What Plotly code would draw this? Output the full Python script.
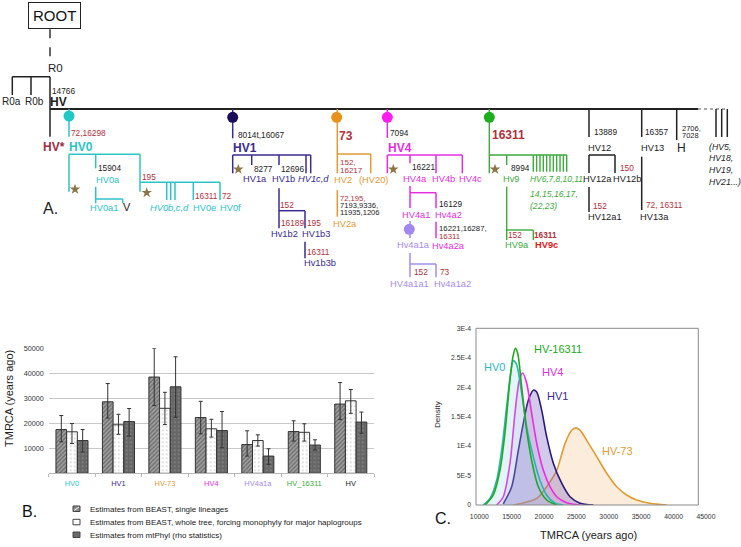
import plotly.graph_objects as go

W, H = 741, 547
FONT = "Liberation Sans, Arial, sans-serif"

# ---------------- Panel B data ----------------
groups = ["HV0", "HV1", "HV-73", "HV4", "HV4a1a", "HV_16311", "HV"]
series_names = ["Estimates from BEAST, single lineages",
                "Estimates from BEAST, whole tree, forcing monophyly for major haplogroups",
                "Estimates from mtPhyl (rho statistics)"]
beast_single = [17500, 28600, 38500, 22300, 11500, 16700, 27700]
beast_single_hi = [23100, 35900, 50000, 28800, 17000, 21000, 36300]
beast_single_lo = [12600, 22100, 27100, 15800, 6900, 12900, 21500]
beast_tree = [16600, 19400, 26000, 17800, 13100, 16400, 29000]
beast_tree_hi = [19900, 23600, 32400, 21600, 15400, 19800, 33500]
beast_tree_lo = [11900, 15600, 19500, 14500, 10900, 12900, 24000]
mtphyl = [13100, 20700, 34600, 17100, 6900, 11300, 20500]
mtphyl_hi = [17500, 25900, 46600, 24700, 9800, 13400, 24500]
mtphyl_lo = [8500, 14900, 22400, 10200, 3600, 9300, 16000]
b_ytick_vals = [10000, 20000, 30000, 40000, 50000]

# ---------------- Panel C data ----------------
hv73_x = [15250, 18850, 20400, 21950, 23250, 24260, 24900, 25550, 26840, 28130, 29670, 31220, 32760, 34300, 36370, 38940]
hv73_y = [0.0, 0.11e-4, 0.31e-4, 0.59e-4, 1.05e-4, 1.27e-4, 1.31e-4, 1.27e-4, 1.05e-4, 0.82e-4, 0.54e-4, 0.31e-4, 0.17e-4, 0.085e-4, 0.03e-4, 0.0]
hv1_x = [13700, 15000, 16030, 16800, 17570, 18340, 18860, 19630, 20400, 21430, 22720, 24010, 25550, 27610]
hv1_y = [0.02e-4, 0.31e-4, 0.93e-4, 1.39e-4, 1.78e-4, 1.95e-4, 1.92e-4, 1.61e-4, 1.16e-4, 0.71e-4, 0.37e-4, 0.14e-4, 0.03e-4, 0.0]
hv4_x = [12680, 13700, 14740, 15510, 16180, 16700, 17310, 18080, 18860, 19890, 20920, 21950, 23490, 25550]
hv4_y = [0.0, 0.14e-4, 0.71e-4, 1.56e-4, 2.12e-4, 2.24e-4, 2.07e-4, 1.56e-4, 1.05e-4, 0.59e-4, 0.31e-4, 0.14e-4, 0.04e-4, 0.0]
hv0_x = [10600, 11650, 12680, 13450, 14220, 14840, 15250, 15770, 16540, 17310, 18340, 19370, 20400, 21690, 22980]
hv0_y = [0.0, 0.11e-4, 0.42e-4, 0.93e-4, 1.67e-4, 2.24e-4, 2.45e-4, 2.38e-4, 1.90e-4, 1.33e-4, 0.82e-4, 0.42e-4, 0.17e-4, 0.03e-4, 0.0]
hv16311_x = [10900, 12160, 13190, 13960, 14630, 15150, 15560, 15920, 16540, 17310, 18080, 19110, 20400, 21950]
hv16311_y = [0.0, 0.17e-4, 0.59e-4, 1.22e-4, 2.01e-4, 2.49e-4, 2.66e-4, 2.58e-4, 2.01e-4, 1.27e-4, 0.76e-4, 0.31e-4, 0.085e-4, 0.0]
c_xtick_vals = [10000, 15000, 20000, 25000, 30000, 35000, 40000, 45000]
c_ytick_vals = [0, 5e-5, 1e-4, 1.5e-4, 2e-4, 2.5e-4, 3e-4]
c_ytick_text = ["0", "5E-5", "1E-4", "1.5E-4", "2E-4", "2.5E-4", "3E-4"]

# ---------------- colours ----------------
COL = dict(k="#222222", teal="#2cc3c8", ind="#3b2a8f", org="#e29a32", mag="#e42ee0",
           lav="#a48ce8", grn="#3daa3d", red="#b0303a", hvstar="#a02c44", bred="#e02020",
           star="#8c7444")
group_colors = [COL["teal"], COL["ind"], COL["org"], COL["mag"], COL["lav"], COL["grn"], "#222222"]

fig = go.Figure()

# ---------------- Panel B bars ----------------
bar_specs = [
    (beast_single, beast_single_hi, beast_single_lo,
     dict(shape="/", bgcolor="#a0a0a0", fgcolor="#3a3a3a", size=3, solidity=0.45)),
    (beast_tree, beast_tree_hi, beast_tree_lo,
     dict(shape=".", bgcolor="#ffffff", fgcolor="#8a8a8a", size=4, solidity=0.15)),
    (mtphyl, mtphyl_hi, mtphyl_lo,
     dict(shape=".", bgcolor="#666666", fgcolor="#a0a0a0", size=4, solidity=0.2)),
]
for name, (vals, hi, lo, pat) in zip(series_names, bar_specs):
    fig.add_trace(go.Bar(
        x=groups, y=vals, name=name, showlegend=False,
        marker=dict(line=dict(color="#333333", width=1), pattern=pat),
        error_y=dict(type="data", symmetric=False,
                     array=[h - v for h, v in zip(hi, vals)],
                     arrayminus=[v - l for v, l in zip(vals, lo)],
                     color="#333333", thickness=1, width=2),
        xaxis="x", yaxis="y", hoverinfo="skip"))

# ---------------- Panel C densities ----------------
dens = [
    ("HV-73", hv73_x, hv73_y, COL["org"], "rgba(240,170,90,0.22)"),
    ("HV1", hv1_x, hv1_y, "#2a1a78", "rgba(110,80,190,0.30)"),
    ("HV4", hv4_x, hv4_y, COL["mag"], "rgba(210,120,230,0.14)"),
    ("HV0", hv0_x, hv0_y, "#26b8b0", "rgba(120,200,225,0.20)"),
    ("HV-16311", hv16311_x, hv16311_y, "#22a822", None),
]
for name, xs, ys, lc, fc in dens:
    fig.add_trace(go.Scatter(
        x=xs, y=ys, mode="lines", name=name, showlegend=False,
        line=dict(color=lc, width=1.6, shape="spline", smoothing=0.8),
        fill="tozeroy" if fc else None, fillcolor=fc,
        xaxis="x2", yaxis="y2", hoverinfo="skip"))

# ---------------- Panel A tree (diagram in pixel space) ----------------
def add_segments(segs, color, width=1.6, dash=None):
    xs, ys = [], []
    for x0, y0, x1, y1 in segs:
        xs += [x0, x1, None]
        ys += [y0, y1, None]
    fig.add_trace(go.Scatter(x=xs, y=ys, mode="lines", showlegend=False,
                             line=dict(color=color, width=width, dash=dash),
                             xaxis="x3", yaxis="y3", hoverinfo="skip"))

add_segments([(50, 29.3, 50, 58)], "#333333", 1.5, "dash")
add_segments([(50, 109, 698, 109)], "#222222", 2.0)
add_segments([(698, 109, 728, 109)], "#555555", 1.2, "dot")
add_segments([
    (12.3, 76.7, 50, 76.7), (12.3, 76.7, 12.3, 95), (31, 76.7, 31, 95), (50, 76.7, 50, 136.7),
    (589, 109, 589, 137), (589, 155, 615, 155), (589, 155, 589, 173), (615, 155, 615, 173),
    (589, 187, 589, 212),
    (641.7, 109, 641.7, 137), (641.7, 156.7, 641.7, 210),
    (676.7, 109, 676.7, 140),
    (716, 109, 716, 137), (721.7, 109, 721.7, 137), (727.3, 109, 727.3, 137),
], "#222222", 1.5)
add_segments([
    (69, 109, 69, 136.7), (69, 154.3, 140, 154.3), (69, 154.3, 69, 191.7), (95.7, 154.3, 95.7, 168.3),
    (95.7, 186.7, 95.7, 203.3), (95.7, 199, 122.7, 199), (122.7, 199, 122.7, 203.3),
    (140, 154.3, 140, 191.7), (140, 182.3, 220, 182.3),
    (166.7, 182.3, 166.7, 200), (170.7, 182.3, 170.7, 200), (175, 182.3, 175, 200),
    (193.3, 182.3, 193.3, 200), (220, 182.3, 220, 200),
], COL["teal"], 1.5)
add_segments([
    (232.7, 109, 232.7, 138.3), (232.7, 155, 310.7, 155), (232.7, 155, 232.7, 173.3),
    (251.7, 155, 251.7, 165), (279, 155, 279, 165), (306, 155, 306, 173.3), (310.7, 155, 310.7, 173.3),
    (279, 188.3, 279, 228.3), (279, 210.7, 305, 210.7), (305, 210.7, 305, 228.3), (305, 241.7, 305, 258.3),
], COL["ind"], 1.5)
add_segments([
    (337.3, 109, 337.3, 173.3), (337.3, 154, 370.7, 154), (370.7, 154, 370.7, 173.3),
    (337.3, 190, 337.3, 216.7),
], COL["org"], 1.5)
add_segments([
    (387.3, 109, 387.3, 138), (387.3, 155, 462.3, 155), (387.3, 155, 387.3, 173.3),
    (410, 155, 410, 163.3), (436, 155, 436, 173.3), (462.3, 155, 462.3, 173.3),
    (410, 186, 410, 208), (410, 192.7, 436, 192.7), (436, 192.7, 436, 208.3), (436, 221.7, 436, 238.3),
], COL["mag"], 1.5)
add_segments([
    (410, 221, 410, 238), (410, 253, 410, 277.3), (410, 264, 436, 264), (436, 264, 436, 277.3),
], COL["lav"], 1.5)
green_segs = [
    (489.3, 109, 489.3, 173.3), (489.3, 155, 566.7, 155), (506.7, 155, 506.7, 165),
    (506.7, 186.7, 506.7, 240), (506.7, 230, 533.3, 230), (533.3, 230, 533.3, 240),
]
for i in range(11):
    gx = 533.3 + i * 3.34
    green_segs.append((gx, 155, gx, 171.7))
add_segments(green_segs, COL["grn"], 1.4)

# nodes
nodes = [(69, 116, "#20c8c8"), (232.7, 117.3, "#1c0c5c"), (336.7, 117.3, "#e8921c"),
         (387.3, 117.3, "#ff1ef0"), (489.3, 117.3, "#1cae1c"), (409.3, 229.3, "#a088f0")]
fig.add_trace(go.Scatter(x=[n[0] for n in nodes], y=[n[1] for n in nodes], mode="markers",
                         marker=dict(size=11, color=[n[2] for n in nodes], line=dict(width=0)),
                         xaxis="x3", yaxis="y3", showlegend=False, hoverinfo="skip"))
stars = [(75, 189.3), (146.7, 192.7), (238.3, 169.3), (393.3, 169.3), (495, 169.3)]
fig.add_trace(go.Scatter(x=[s[0] for s in stars], y=[s[1] for s in stars], mode="markers",
                         marker=dict(symbol="star", size=8, color=COL["star"], line=dict(width=0)),
                         xaxis="x3", yaxis="y3", showlegend=False, hoverinfo="skip"))

tree_labels = [
    ("R0", 55, 68, 11.5, "k", "", "center"),
    ("R0a", 11, 101.7, 10, "k", "", "center"),
    ("R0b", 34, 101.7, 10, "k", "", "center"),
    ("14766", 63.3, 91, 8.3, "k", "", "center"),
    ("HV", 58.7, 101.7, 12, "k", "b", "center"),
    ("HV*", 54, 147.3, 12, "hvstar", "b", "center"),
    ("72,16298", 70, 133.3, 8.3, "red", "", "left"),
    ("HV0", 67.5, 147.3, 12, "teal", "b", "left"),
    ("15904", 96.5, 168.3, 8.3, "k", "", "left"),
    ("HV0a", 108, 180, 9.3, "teal", "", "center"),
    ("HV0a1", 104, 208.3, 9.3, "teal", "", "center"),
    ("V", 127, 207.3, 11, "k", "", "center"),
    ("195", 149.3, 176.7, 8.3, "red", "", "center"),
    ("HV0b,c,d", 169, 208.3, 9.3, "teal", "i", "center"),
    ("16311", 206, 196, 8.3, "red", "", "center"),
    ("72", 226.7, 196, 8.3, "red", "", "center"),
    ("HV0e", 204.7, 208.3, 9.3, "teal", "", "center"),
    ("HV0f", 230, 208.3, 9.3, "teal", "", "center"),
    ("A.", 50, 208.3, 16, "k", "", "center"),
    ("8014t,16067", 236.5, 135, 8.3, "k", "", "left"),
    ("HV1", 232, 148.3, 12, "ind", "b", "left"),
    ("8277", 252.5, 169.3, 8.3, "k", "", "left"),
    ("12696", 280.2, 169.3, 8.3, "k", "", "left"),
    ("HV1a", 255.3, 179.3, 9.3, "ind", "", "center"),
    ("HV1b", 283.3, 179.3, 9.3, "ind", "", "center"),
    ("HV1c,d", 313.3, 179.3, 9.3, "ind", "i", "center"),
    ("152", 287, 205, 8.3, "red", "", "center"),
    ("16189", 292.3, 223.3, 8.3, "red", "", "center"),
    ("195", 314.2, 223.3, 8.3, "red", "", "center"),
    ("Hv1b2", 284.7, 234, 9.3, "ind", "", "center"),
    ("HV1b3", 315.5, 234, 9.3, "ind", "", "center"),
    ("16311", 318, 252.3, 8.3, "red", "", "center"),
    ("Hv1b3b", 320, 263.3, 9.3, "ind", "", "center"),
    ("73", 346.3, 136, 12, "red", "b", "center"),
    ("152,", 338.5, 162.7, 8, "red", "", "left"),
    ("16217", 338.5, 170, 8, "red", "", "left"),
    ("HV2", 343, 180, 9.3, "org", "", "center"),
    ("(HV20)", 373.5, 180, 9.3, "org", "", "center"),
    ("72,195,", 338.5, 198.1, 7.6, "red", "", "left"),
    ("7193,9336,", 338.5, 205.5, 7.6, "k", "", "left"),
    ("11935,1206", 338.5, 212.8, 7.6, "k", "", "left"),
    ("HV2a", 345, 224.3, 9.3, "org", "", "center"),
    ("7094", 389.2, 133.3, 8.3, "k", "", "left"),
    ("HV4", 386.5, 148.3, 12, "mag", "b", "left"),
    ("16221", 411, 167.3, 8.3, "k", "", "left"),
    ("HV4a", 414.7, 179.3, 9.3, "mag", "", "center"),
    ("HV4b", 443.3, 179.3, 9.3, "mag", "", "center"),
    ("HV4c", 470, 179.3, 9.3, "mag", "", "center"),
    ("16129", 437.5, 204, 8.3, "k", "", "left"),
    ("HV4a1", 416.3, 215, 9.3, "mag", "", "center"),
    ("Hv4a2", 448, 215, 9.3, "mag", "", "center"),
    ("16221,16287,", 437.5, 228.6, 7.8, "k", "", "left"),
    ("16311", 437.5, 236.3, 7.8, "red", "", "left"),
    ("Hv4a1a", 413.7, 245, 9.3, "lav", "", "center"),
    ("Hv4a2a", 448.3, 245.5, 9.3, "mag", "", "center"),
    ("152", 421.2, 272.3, 8.3, "red", "", "center"),
    ("73", 445, 272.3, 8.3, "red", "", "center"),
    ("HV4a1a1", 409.2, 284, 9.3, "lav", "", "center"),
    ("Hv4a1a2", 452.7, 284, 9.3, "lav", "", "center"),
    ("16311", 491, 135, 12, "red", "b", "left"),
    ("8994", 510.2, 168.3, 8.3, "k", "", "left"),
    ("Hv9", 511, 179.3, 9.3, "grn", "", "center"),
    ("HV6,7,8,10,11,", 528.5, 179.3, 8.4, "grn", "i", "left"),
    ("14,15,16,17,", 528.5, 194.3, 8.6, "grn", "i", "left"),
    ("(22,23)", 528.5, 206, 8.6, "grn", "i", "left"),
    ("152", 515, 235, 8.3, "red", "", "center"),
    ("16311", 545.8, 235, 8.3, "red", "b", "center"),
    ("HV9a", 516.8, 245, 9.3, "grn", "", "center"),
    ("HV9c", 546.3, 245, 9.3, "bred", "b", "center"),
    ("13889", 592.5, 132, 8.3, "k", "", "left"),
    ("HV12", 599.2, 148, 9.3, "k", "", "center"),
    ("HV12a", 597.8, 179, 9.3, "k", "", "center"),
    ("150", 626.7, 167.7, 8.3, "red", "", "center"),
    ("HV12b", 626.7, 179, 9.3, "k", "", "center"),
    ("152", 600.3, 206, 8.3, "red", "", "center"),
    ("HV12a1", 604.5, 217, 9.3, "k", "", "center"),
    ("16357", 644.2, 132, 8.3, "k", "", "left"),
    ("HV13", 652.3, 148, 9.3, "k", "", "center"),
    ("72, 16311", 664.2, 205, 8.3, "red", "", "center"),
    ("HV13a", 654.8, 216.7, 9.3, "k", "", "center"),
    ("2706,", 680.5, 128, 7.5, "k", "", "left"),
    ("7028", 680.5, 135.5, 7.5, "k", "", "left"),
    ("H", 681.7, 148, 12, "k", "", "center"),
    ("(HV5,", 707.5, 146.7, 8.7, "k", "i", "left"),
    ("HV18,", 707.5, 158.3, 8.7, "k", "i", "left"),
    ("HV19,", 707.5, 170, 8.7, "k", "i", "left"),
    ("HV21...)", 707.5, 181.7, 8.7, "k", "i", "left"),
]

annotations = []
for text, x, y, size, ck, style, anchor in tree_labels:
    t = text
    if "b" in style:
        t = "<b>%s</b>" % t
    if "i" in style:
        t = "<i>%s</i>" % t
    annotations.append(dict(text=t, x=x, y=y, xref="x3", yref="y3", showarrow=False,
                            xanchor=anchor, yanchor="middle", borderpad=0,
                            font=dict(size=size, color=COL[ck], family=FONT)))

# ROOT box
annotations.append(dict(text="ROOT", x=54, y=15.5, xref="x3", yref="y3", showarrow=False,
                        xanchor="center", yanchor="middle", bordercolor="#222222", borderwidth=1,
                        borderpad=4, bgcolor="white", font=dict(size=15, color="#111111", family=FONT)))

# Panel B titles, legend
annotations.append(dict(text="TMRCA (years ago)", x=9, y=399, xref="x3", yref="y3", showarrow=False,
                        textangle=-90, font=dict(size=11, color="#222222", family=FONT)))
annotations.append(dict(text="B.", x=29, y=511.7, xref="x3", yref="y3", showarrow=False,
                        font=dict(size=16, color="#111111", family=FONT)))
legend_rows = [509, 522.3, 535]
for name, ry in zip(series_names, legend_rows):
    annotations.append(dict(text=name, x=88.5, y=ry, xref="x3", yref="y3", showarrow=False,
                            xanchor="left", yanchor="middle", borderpad=0,
                            font=dict(size=8, color="#222222", family=FONT)))

shapes = []
swatch_fills = ["#8a8a8a", "#ffffff", "#6a6a6a"]
for fc, ry in zip(swatch_fills, legend_rows):
    shapes.append(dict(type="rect", xref="x3", yref="y3", x0=73, x1=80, y0=ry - 3, y1=ry + 2.5,
                       fillcolor=fc, line=dict(color="#444444", width=1)))
shapes.append(dict(type="line", xref="x3", yref="y3", x0=74, x1=79, y0=510.5, y1=507,
                   line=dict(color="#eeeeee", width=1)))

# Panel C frame, labels
shapes.append(dict(type="rect", xref="x3", yref="y3", x0=476, x1=698.3, y0=328.3, y1=505,
                   line=dict(color="#8a8a8a", width=1), fillcolor="rgba(0,0,0,0)", layer="above"))
annotations.append(dict(text="Density", x=437, y=415, xref="x3", yref="y3", showarrow=False,
                        textangle=-90, font=dict(size=8, color="#222222", family=FONT)))
annotations.append(dict(text="TMRCA (years ago)", x=588, y=535, xref="x3", yref="y3", showarrow=False,
                        font=dict(size=11, color="#222222", family=FONT)))
annotations.append(dict(text="C.", x=442.5, y=518, xref="x3", yref="y3", showarrow=False,
                        font=dict(size=16, color="#111111", family=FONT)))
curve_labels = [("HV-16311", 22150, 2.644e-4, "#22a822"), ("HV0", 12420, 2.348e-4, "#2cb8c0"),
                ("HV4", 21377, 2.263e-4, COL["mag"]), ("HV1", 22100, 1.856e-4, "#3a2a90"),
                ("HV-73", 31410, 0.922e-4, COL["org"])]
for t, x, y, c in curve_labels:
    annotations.append(dict(text=t, x=x, y=y, xref="x2", yref="y2", showarrow=False,
                            font=dict(size=11, color=c, family=FONT)))

def px_x(v):
    return v / W

def px_y(v):
    return 1 - v / H

fig.update_layout(
    width=W, height=H, margin=dict(l=0, r=0, t=0, b=0, pad=0, autoexpand=False),
    paper_bgcolor="white", plot_bgcolor="rgba(0,0,0,0)",
    font=dict(family=FONT, color="#222222"),
    barmode="group", bargap=0.31, bargroupgap=0,
    showlegend=False,
    xaxis=dict(domain=[px_x(48.75), px_x(374)], anchor="y", type="category", automargin=False,
               tickmode="array", tickvals=groups,
               ticktext=["<span style='color:%s'>%s</span>" % (c, g) for g, c in zip(groups, group_colors)],
               tickfont=dict(size=7.5, family=FONT), showline=True, linecolor="#b8b8b8",
               ticks="outside", tickson="boundaries", ticklen=3, tickcolor="#b8b8b8",
               showgrid=False, ticklabelstandoff=3, fixedrange=True),
    yaxis=dict(domain=[px_y(473.3), px_y(348.3)], anchor="x", range=[0, 50000], automargin=False,
               tickmode="array", tickvals=b_ytick_vals, ticktext=[str(v) for v in b_ytick_vals],
               tickfont=dict(size=7.2, color="#333333", family=FONT),
               showgrid=True, gridcolor="#c8c8c8", gridwidth=1, zeroline=False,
               showline=False, ticks="", ticklabelstandoff=4, fixedrange=True),
    xaxis2=dict(domain=[px_x(476.06), px_x(709.2)], anchor="y2", range=[9500, 45500], automargin=False,
                tickmode="array", tickvals=c_xtick_vals, ticktext=[str(v) for v in c_xtick_vals],
                tickfont=dict(size=6.8, color="#333333", family=FONT),
                showgrid=False, zeroline=False, showline=False, ticks="",
                ticklabelstandoff=6, fixedrange=True),
    yaxis2=dict(domain=[px_y(505), px_y(328.3)], anchor="x2", range=[0, 3e-4], automargin=False,
                tickmode="array", tickvals=c_ytick_vals, ticktext=c_ytick_text,
                tickfont=dict(size=6.8, color="#333333", family=FONT),
                showgrid=False, zeroline=False, showline=False, ticks="",
                ticklabelstandoff=4, fixedrange=True),
    xaxis3=dict(domain=[0, 1], anchor="y3", range=[0, W], visible=False, fixedrange=True, automargin=False),
    yaxis3=dict(domain=[0, 1], anchor="x3", range=[H, 0], visible=False, fixedrange=True, automargin=False),
    annotations=annotations, shapes=shapes,
)

fig.write_html("out.html", config={"displayModeBar": False},
               post_script="document.body.style.margin='0';document.body.style.padding='0';"
                           "document.body.style.overflow='hidden';")
